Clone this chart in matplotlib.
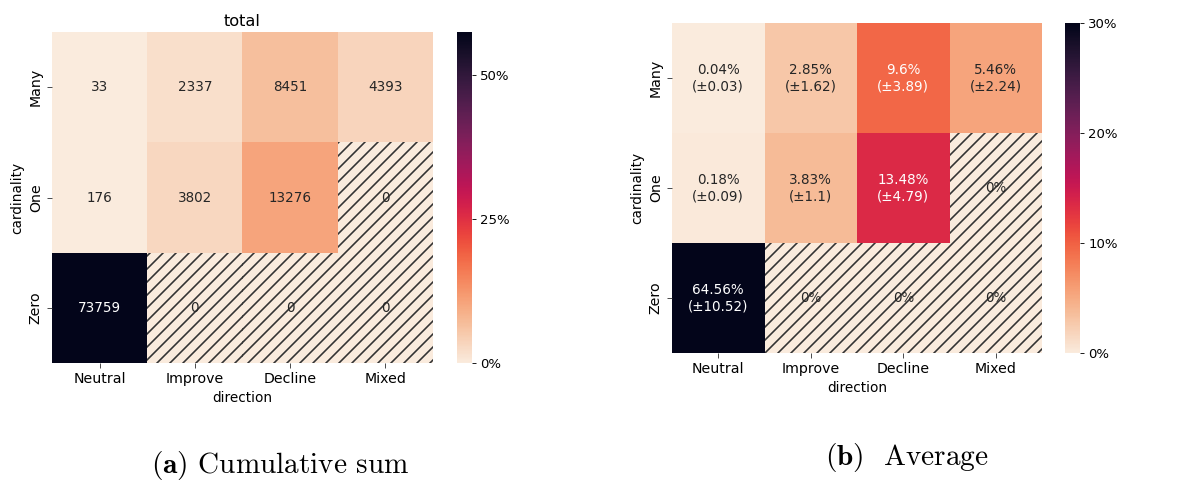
import numpy as np
import matplotlib
matplotlib.use("Agg")
import matplotlib.pyplot as plt
from matplotlib.patches import Rectangle
from matplotlib.ticker import PercentFormatter
import seaborn as sns

# ---- data -------------------------------------------------------------
directions = ["Neutral", "Improve", "Decline", "Mixed"]
cardinalities = ["Many", "One", "Zero"]

# cumulative counts per (cardinality, direction)
total_counts = [
    [33, 2337, 8451, 4393],
    [176, 3802, 13276, 0],
    [73759, 0, 0, 0],
]
# denominator used for the percentage colour scale of the counts
percent_base = 128300

# average share (in %) and its spread (±) per cell
avg_pct = [
    [0.04, 2.85, 9.6, 5.46],
    [0.18, 3.83, 13.48, 0],
    [64.56, 0, 0, 0],
]
avg_spread = [
    [0.03, 1.62, 3.89, 2.24],
    [0.09, 1.1, 4.79, None],
    [10.52, None, None, None],
]

left_cbar_ticks = [0, 0.25, 0.50]
right_cbar_ticks = [0, 0.10, 0.20, 0.30]
right_vmax = 0.30

# ---- style ------------------------------------------------------------
plt.rcParams["font.family"] = ["DejaVu Sans"]
plt.rcParams["mathtext.fontset"] = "cm"
plt.rcParams["hatch.linewidth"] = 1.5
plt.rcParams["hatch.color"] = "#333333"

DPI = 78
fig = plt.figure(figsize=(1178 / DPI, 483 / DPI), dpi=DPI)
W, H = 1178, 483


def box(x0, y0, x1, y1):
    return [x0 / W, (H - y1) / H, (x1 - x0) / W, (y1 - y0) / H]


TICK_FS = 13
ANN_FS = 12.5
LAB_FS = 12.6
CB_FS = 12.2


def hatch_zero_cells(ax, values):
    arr = np.asarray(values, dtype=float)
    for i in range(arr.shape[0]):
        for j in range(arr.shape[1]):
            if arr[i, j] == 0:
                ax.add_patch(Rectangle((j, i), 1, 1, fill=False, hatch="//",
                                       linewidth=0, edgecolor="#333333",
                                       zorder=2))


def style_axes(ax, cax):
    ax.set_xlabel("direction", fontsize=LAB_FS)
    ax.set_ylabel("cardinality", fontsize=LAB_FS)
    ax.set_xticklabels(directions, rotation=0, fontsize=TICK_FS)
    ax.set_yticklabels(cardinalities, rotation=90, va="center",
                       fontsize=TICK_FS)
    ax.tick_params(length=5, width=0.8, color="#333333")
    cax.tick_params(labelsize=CB_FS, length=4, width=0.8)
    cax.yaxis.set_major_formatter(PercentFormatter(1.0, decimals=0))


# ---- (a) cumulative totals -------------------------------------------
counts = np.asarray(total_counts, dtype=float)
shares = counts / percent_base
count_labels = np.array([[f"{int(c)}" for c in row] for row in total_counts])

ax1 = fig.add_axes(box(52, 32, 433, 363))
cax1 = fig.add_axes(box(457, 32, 472, 363))
sns.heatmap(shares, ax=ax1, cbar_ax=cax1, cmap="rocket_r",
            vmin=0, vmax=shares.max(), annot=count_labels, fmt="",
            annot_kws={"fontsize": ANN_FS},
            cbar_kws={"ticks": left_cbar_ticks})
hatch_zero_cells(ax1, total_counts)
ax1.set_title("total", fontsize=15, pad=6)
style_axes(ax1, cax1)

# ---- (b) averages -----------------------------------------------------
avg = np.asarray(avg_pct, dtype=float) / 100.0
avg_labels = []
for row_v, row_s in zip(avg_pct, avg_spread):
    row = []
    for v, s in zip(row_v, row_s):
        row.append(f"{v:g}%" if s is None else f"{v:g}%\n(\u00b1{s:g})")
    avg_labels.append(row)
avg_labels = np.array(avg_labels)

ax2 = fig.add_axes(box(672, 23, 1042, 353))
cax2 = fig.add_axes(box(1065, 23, 1080, 353))
sns.heatmap(avg, ax=ax2, cbar_ax=cax2, cmap="rocket_r",
            vmin=0, vmax=right_vmax, annot=avg_labels, fmt="",
            annot_kws={"fontsize": ANN_FS},
            cbar_kws={"ticks": right_cbar_ticks})
hatch_zero_cells(ax2, avg_pct)
style_axes(ax2, cax2)

# ---- sub-captions -----------------------------------------------------
fig.text(280 / W, 1 - 465 / H, r"$\mathbf{(a)}$ Cumulative sum",
         family="cmr10", fontsize=27, ha="center", va="center")
fig.text(907 / W, 1 - 458 / H, r"$\mathbf{(b)}$  Average",
         family="cmr10", fontsize=27, ha="center", va="center")

fig.savefig("out.png", dpi=DPI)
